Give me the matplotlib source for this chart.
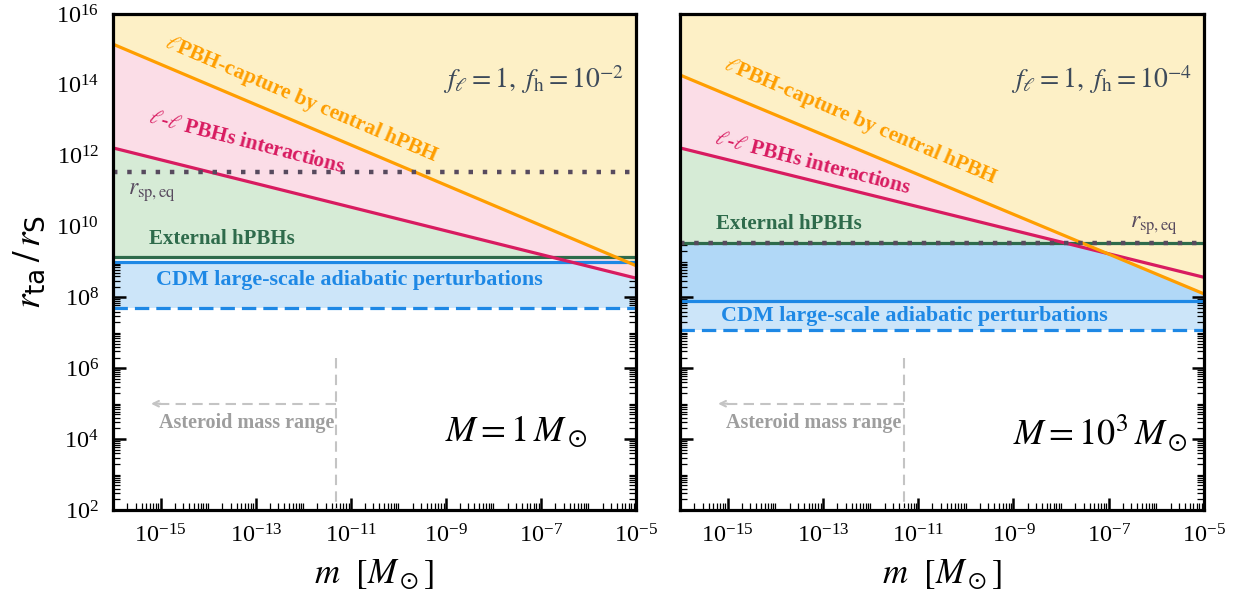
import numpy as np
import matplotlib.pyplot as plt
from matplotlib.ticker import LogLocator, NullFormatter, LogFormatterMathtext

plt.rcParams['mathtext.fontset'] = 'custom'
plt.rcParams['mathtext.rm'] = 'STIXGeneral'
plt.rcParams['mathtext.it'] = 'STIXGeneral:italic'
plt.rcParams['mathtext.bf'] = 'STIXGeneral:bold'
plt.rcParams['mathtext.sf'] = 'DejaVu Sans'
plt.rcParams['mathtext.fallback'] = 'stix'
plt.rcParams['font.family'] = ['Liberation Serif', 'DejaVu Serif']

# mass range of the light PBHs (straight power laws in log-log)
m_ends = [1e-16, 1e-5]

# left panel: f_h = 1e-2, M = 1 Msun ; right panel: f_h = 1e-4, M = 1e3 Msun
capture = [[1.41e15, 7.9e8], [1.9e14, 1.26e8]]
ll_interact = [[1.66e12, 3.5e8], [1.66e12, 3.7e8]]
hpbh_ext = [1.4e9, 3.5e9]
cdm_top = [1.0e9, 8.0e7]
cdm_bottom = [5.0e7, 1.2e7]
r_sp_eq = [3.5e11, 3.5e9]
f_h_exp = [-2, -4]
M_labels = [r'$M = 1\,M_\odot$', r'$M = 10^3\,M_\odot$']
m_asteroid = 5e-12

x_major = [1e-15, 1e-13, 1e-11, 1e-9, 1e-7, 1e-5]
y_major = [1e2, 1e4, 1e6, 1e8, 1e10, 1e12, 1e14, 1e16]

c_yellow = '#fdf0c6'
c_pink = '#fbdde7'
c_green = '#d6ebd6'
c_lblue = '#cce5f9'
c_mblue = '#b1d8f7'
c_orange = '#ff9e00'
c_magenta = '#d81b60'
c_dgreen = '#2e6b4b'
c_blue = '#1e88e5'
c_dot = '#574a5e'
c_grey = '#c4c4c4'

fig = plt.figure(figsize=(12.39, 5.96), dpi=100)
ax1 = fig.add_axes([0.0912, 0.1443, 0.4221, 0.8322])
ax2 = fig.add_axes([0.5488, 0.1443, 0.4229, 0.8322])
axes = [ax1, ax2]

# label positions (data coords) per panel
capture_txt = [(10**-12.03, 10**13.57), (10**-12.2, 10**12.95)]
ll_txt = [(10**-13.2, 10**12.36), (10**-13.21, 10**11.77)]
ext_txt = [(10**-13.71, 10**9.65), (10**-13.71, 10**10.07)]
cdm_txt = [(10**-11.02, 10**8.49), (10**-11.07, 10**7.48)]
rsp_txt = [(10**-15.68, 10**10.95), (10**-6.55, 10**10.04)]

for i, ax in enumerate(axes):
    ax.set_xscale('log')
    ax.set_yscale('log')

    # filled regions, layered bottom to top
    if i == 1:
        ax.fill_between(m_ends, cdm_top[i], hpbh_ext[i], color=c_mblue, lw=0, zorder=1)
    ax.fill_between(m_ends, cdm_bottom[i], cdm_top[i], color=c_lblue, lw=0, zorder=1)
    ax.fill_between(m_ends, hpbh_ext[i], ll_interact[i], color=c_green, lw=0, zorder=2)
    ax.fill_between(m_ends, ll_interact[i], capture[i], color=c_pink, lw=0, zorder=3)
    ax.fill_between(m_ends, capture[i], 1e16, color=c_yellow, lw=0, zorder=4)

    # boundaries
    ax.plot(m_ends, [cdm_bottom[i]] * 2, color=c_blue, lw=2.3, ls=(0, (4.5, 2.2)), zorder=5)
    ax.plot(m_ends, [cdm_top[i]] * 2, color=c_blue, lw=2.3, zorder=5)
    ax.plot(m_ends, [hpbh_ext[i]] * 2, color=c_dgreen, lw=2.3, zorder=5)
    ax.plot(m_ends, ll_interact[i], color=c_magenta, lw=2.3, zorder=6)
    ax.plot(m_ends, capture[i], color=c_orange, lw=2.3, zorder=6)
    ax.plot(m_ends, [r_sp_eq[i]] * 2, color=c_dot, lw=3.2, ls=(0, (1, 2.2)), zorder=7)

    # region labels
    ax.text(*capture_txt[i], r'$\ell$PBH-capture by central hPBH', color=c_orange,
            fontsize=15.5, fontweight='bold', rotation=-23, ha='center', va='center',
            rotation_mode='anchor', zorder=8)
    ax.text(*ll_txt[i], r'$\ell$-$\ell$ PBHs interactions', color=c_magenta,
            fontsize=15.2, fontweight='bold', rotation=-14.5, ha='center', va='center',
            rotation_mode='anchor', zorder=8)
    ax.text(*ext_txt[i], 'External hPBHs', color=c_dgreen, fontsize=15,
            fontweight='bold', ha='center', va='center', zorder=8)
    ax.text(*cdm_txt[i], 'CDM large-scale adiabatic perturbations', color=c_blue,
            fontsize=15.8, fontweight='bold', ha='center', va='center', zorder=8)
    ax.text(*rsp_txt[i], r'$r_{\rm sp,eq}$', color=c_dot, fontsize=17,
            ha='left', va='center', zorder=8)
    ax.text(0.978, 0.867, r'$f_\ell = 1,\ f_{\rm h} = 10^{%d}$' % f_h_exp[i],
            transform=ax.transAxes, color='#3d4a5a', fontsize=20,
            ha='right', va='center', zorder=8)
    ax.text(0.635, 0.157, M_labels[i], transform=ax.transAxes, fontsize=26,
            ha='left', va='center', zorder=8)

    # asteroid mass window
    ax.plot([m_asteroid, m_asteroid], [2e6, 1e2], color=c_grey, lw=1.5,
            ls=(0, (5, 3)), zorder=5)
    ax.plot([m_asteroid, 10**-15.05], [1e5, 1e5], color=c_grey, lw=1.5,
            ls=(0, (5, 3)), zorder=5)
    ax.annotate('', xy=(10**-15.2, 1e5), xytext=(10**-15.0, 1e5),
                arrowprops=dict(arrowstyle='->', color=c_grey, lw=1.5,
                                shrinkA=0, shrinkB=0), zorder=5)
    ax.text(m_asteroid / 1.12, 10**4.46, 'Asteroid mass range', color='#9e9e9e',
            fontsize=14.5, fontweight='bold', ha='right', va='center', zorder=8)

    # axes cosmetics
    ax.set_xticks(x_major)
    ax.set_yticks(y_major)
    ax.xaxis.set_minor_locator(LogLocator(base=10, subs=np.arange(1, 10), numticks=100))
    ax.yaxis.set_minor_locator(LogLocator(base=10, subs=np.arange(1, 10), numticks=100))
    ax.xaxis.set_major_formatter(LogFormatterMathtext())
    ax.yaxis.set_major_formatter(LogFormatterMathtext())
    ax.xaxis.set_minor_formatter(NullFormatter())
    ax.yaxis.set_minor_formatter(NullFormatter())
    ax.set_xlim(1e-16, 1e-5)
    ax.set_ylim(1e2, 1e16)
    ax.tick_params(which='both', direction='in', top=True, right=True, labelsize=17.5)
    ax.tick_params(which='major', length=9, width=1.8, pad=10)
    ax.tick_params(which='minor', length=5, width=0.9)
    for s in ax.spines.values():
        s.set_linewidth(2.3)
        s.set_zorder(10)
    ax.set_xlabel(r'$m\ \ [M_\odot]$', fontsize=25, labelpad=7)

ax1.set_ylabel(r'$r_{\mathsf{ta}}\,/\,r_{\mathsf{S}}$', fontsize=27, labelpad=6)
ax2.tick_params(axis='y', which='both', labelleft=False)

fig.savefig('out.png', dpi=100)
